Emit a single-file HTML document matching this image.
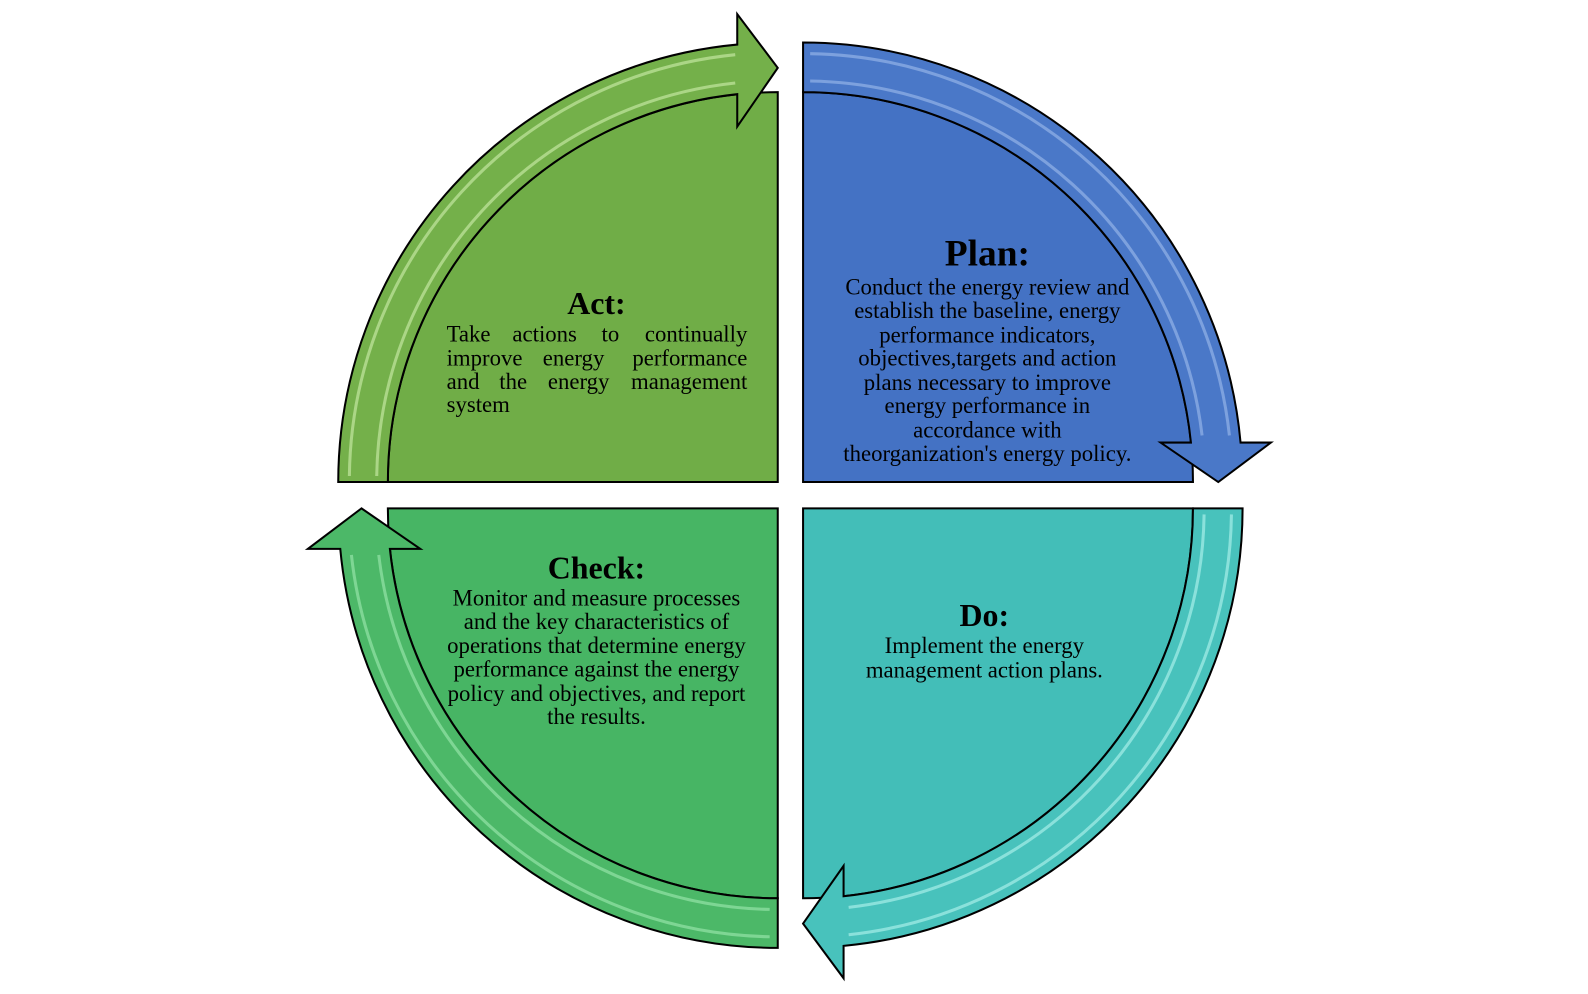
<!DOCTYPE html>
<html><head><meta charset="utf-8"><style>
html,body{margin:0;padding:0;background:#fff}
svg{display:block}
text{font-family:"Liberation Serif",serif;fill:#000}
.t{font-weight:bold;font-size:31.5px}
.b{font-size:22.5px}
</style></head><body>
<svg width="1588" height="994" viewBox="0 0 1588 994" xmlns="http://www.w3.org/2000/svg">
<g transform="scale(1.0127)">
<g stroke="#000" stroke-width="2" stroke-linejoin="miter">
<path d="M768,476 H383 A385 385 0 0 1 768,91 Z" fill="#70AD47"/>
<path d="M334,476 A434 434 0 0 1 728,44 L728,14 L768,67 L728,125 L728,93 A385 385 0 0 0 383,476 Z" fill="#74B04A"/>
<path d="M793,476 V91 A385 385 0 0 1 1178,476 Z" fill="#4472C4"/>
<path d="M793,42 A434 434 0 0 1 1225,437 L1255,437 L1203,476 L1146,437 L1176,437 A385 385 0 0 0 793,91 Z" fill="#4A78C8"/>
<path d="M768,502 V887 A385 385 0 0 1 383,502 Z" fill="#47B564"/>
<path d="M768,936 A434 434 0 0 1 336,542 L304,542 L357,502 L415,542 L385,542 A385 385 0 0 0 768,887 Z" fill="#4CB868"/>
<path d="M793,502 H1178 A385 385 0 0 1 793,887 Z" fill="#43BEB8"/>
<path d="M1227,502 A434 434 0 0 1 833,934 L833,966 L793,912 L833,855 L833,885 A385 385 0 0 0 1178,502 Z" fill="#48C2BC"/>
</g>
<g fill="none" stroke-width="3" opacity="0.55">
<path d="M345,470 A423 423 0 0 1 726,54" stroke="#d8f5b8"/>
<path d="M372,470 A396 396 0 0 1 726,82" stroke="#d8f5b8"/>
<path d="M800,53 A423 423 0 0 1 1214,430" stroke="#a8c4f0"/>
<path d="M800,80 A396 396 0 0 1 1187,430" stroke="#a8c4f0"/>
<path d="M760,925 A423 423 0 0 1 347,548" stroke="#a8f0b8"/>
<path d="M760,898 A396 396 0 0 1 374,548" stroke="#a8f0b8"/>
<path d="M1216,508 A423 423 0 0 1 838,923" stroke="#c0fbf6"/>
<path d="M1189,508 A396 396 0 0 1 838,896" stroke="#c0fbf6"/>
</g>
<text class="t" x="975" y="262" text-anchor="middle" style="font-size:37px">Plan:</text>
<g class="b" text-anchor="middle">
<text x="975" y="291">Conduct the energy review and</text>
<text x="975" y="314">establish the baseline, energy</text>
<text x="975" y="338">performance indicators,</text>
<text x="975" y="361">objectives,targets and action</text>
<text x="975" y="385">plans necessary to improve</text>
<text x="975" y="408">energy performance in</text>
<text x="975" y="432">accordance with</text>
<text x="975" y="455">theorganization's energy policy.</text>
</g>
<text class="t" x="589" y="310" text-anchor="middle">Act:</text>
<g class="b">
<text x="441" y="337">Take</text><text x="506" y="337">actions</text><text x="594" y="337">to</text><text x="738" y="337" text-anchor="end">continually</text>
<text x="441" y="361">improve</text><text x="536" y="361">energy</text><text x="738" y="361" text-anchor="end">performance</text>
<text x="441" y="384">and</text><text x="493" y="384">the</text><text x="541" y="384">energy</text><text x="738" y="384" text-anchor="end">management</text>
<text x="441" y="407">system</text>
</g>
<text class="t" x="589" y="571" text-anchor="middle">Check:</text>
<g class="b" text-anchor="middle">
<text x="589" y="598">Monitor and measure processes</text>
<text x="589" y="621">and the key characteristics of</text>
<text x="589" y="645">operations that determine energy</text>
<text x="589" y="668">performance against the energy</text>
<text x="589" y="692">policy and objectives, and report</text>
<text x="589" y="715">the results.</text>
</g>
<text class="t" x="972" y="618" text-anchor="middle">Do:</text>
<g class="b" text-anchor="middle">
<text x="972" y="645">Implement the energy</text>
<text x="972" y="669">management action plans.</text>
</g>
</g>
</svg>
</body></html>
